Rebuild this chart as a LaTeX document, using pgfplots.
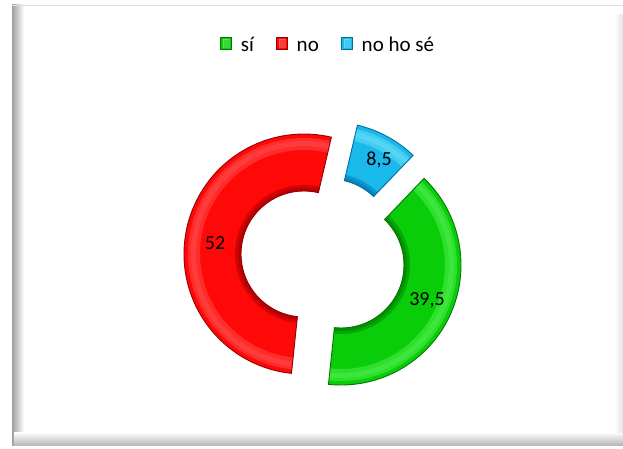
\documentclass[border=0pt]{standalone}
\usepackage{pgfplots}
\pgfplotsset{compat=1.18}
\usepackage{pgfplotstable}
\usepackage{fontspec}
\setmainfont{Carlito}
\usetikzlibrary{calc}

\definecolor{rM}{RGB}{255,8,8}
\definecolor{rD}{RGB}{150,0,0}
\definecolor{rL}{RGB}{255,90,90}
\definecolor{gM}{RGB}{10,205,10}
\definecolor{gD}{RGB}{0,120,0}
\definecolor{gL}{RGB}{90,245,90}
\definecolor{bM}{RGB}{25,185,235}
\definecolor{bD}{RGB}{0,110,165}
\definecolor{bL}{RGB}{120,230,252}

% value, centre of the (exploded) slice
\pgfplotstableread{
idx value cx cy
0 39.5 341 183
1 52.0 304 194
2 8.5 330 206
}\slices

% #1 cx, #2 cy, #3 start angle, #4 end angle, #5 inner r, #6 outer r, #7 options
\newcommand\ring[7]{%
  \path[#7]
   ($(axis cs:#1,#2)+(#3:#6pt)$) arc[start angle=#3,end angle=#4,radius=#6pt]
   -- ($(axis cs:#1,#2)+(#4:#5pt)$) arc[start angle=#4,end angle=#3,radius=#5pt] -- cycle;}
\newcommand\slice[7]{% cx cy a1 a2 main dark light
  \ring{#1}{#2}{#3}{#4}{63}{120}{fill=#5}%
  \ring{#1}{#2}{#3}{#4}{104}{116}{fill=#7, opacity=0.45}%
  \ring{#1}{#2}{#3}{#4}{108}{113}{fill=#7, opacity=0.35}%
  \ring{#1}{#2}{#3}{#4}{63}{69}{fill=#6, opacity=0.45}%
  \ring{#1}{#2}{#3}{#4}{63}{66}{fill=#6, opacity=0.45}%
  \ring{#1}{#2}{#3}{#4}{63}{120}{draw=#6, line width=0.9pt}}

\begin{document}
\begin{tikzpicture}
\pgfplotstablegetelem{0}{value}\of\slices\edef\vA{\pgfplotsretval}
\pgfplotstablegetelem{1}{value}\of\slices\edef\vB{\pgfplotsretval}
\pgfplotstablegetelem{2}{value}\of\slices\edef\vC{\pgfplotsretval}
\pgfplotstablegetelem{0}{cx}\of\slices\edef\xA{\pgfplotsretval}
\pgfplotstablegetelem{1}{cx}\of\slices\edef\xB{\pgfplotsretval}
\pgfplotstablegetelem{2}{cx}\of\slices\edef\xC{\pgfplotsretval}
\pgfplotstablegetelem{0}{cy}\of\slices\edef\yA{\pgfplotsretval}
\pgfplotstablegetelem{1}{cy}\of\slices\edef\yB{\pgfplotsretval}
\pgfplotstablegetelem{2}{cy}\of\slices\edef\yC{\pgfplotsretval}
\pgfmathsetmacro\aS{46.2}
\pgfmathsetmacro\aA{\aS-3.6*\vA}
\pgfmathsetmacro\aB{\aA-3.6*\vB}
\pgfmathsetmacro\aC{\aB-3.6*\vC}
\begin{axis}[
  width=623pt, height=448pt, scale only axis,
  xmin=0, xmax=623, ymin=0, ymax=448, enlargelimits=false,
  hide axis, ticks=none, clip=false,
  legend columns=-1,
  legend style={at={(axis cs:328,404.5)}, anchor=center, draw=none, fill=none,
    font=\fontsize{21}{24}\selectfont, inner sep=0pt,
    /tikz/every odd column/.append style={column sep=7pt},
    /tikz/every even column/.append style={column sep=20pt}},
  legend image code/.code={\filldraw[line width=0.9pt,#1] (0pt,-6pt) rectangle (11pt,6.5pt);
     \fill[white,opacity=0.2] (2.5pt,-3.5pt) rectangle (8.5pt,4pt);},
]
\addlegendimage{fill=gM, draw=gD}
\addlegendentry{\strut sí}
\addlegendimage{fill=rM, draw=rD}
\addlegendentry{\strut no}
\addlegendimage{fill=bM, draw=bD}
\addlegendentry{\strut no ho sé}

\coordinate (SW) at (axis cs:0,0);
\coordinate (NE) at (axis cs:623,448);

% frame
\fill[white] (axis cs:0,0) rectangle (axis cs:623,448);
\shade[left color=gray!75, right color=white] (axis cs:12,3) rectangle (axis cs:24,443);
\shade[bottom color=gray!55, top color=white] (axis cs:14,3) rectangle (axis cs:623,16);
\shade[left color=white, right color=gray!22] (axis cs:614,16) rectangle (axis cs:623,433);
\draw[gray!25] (axis cs:12,443) -- (axis cs:623,443);

% donut slices
\slice{\xA}{\yA}{\aS}{\aA}{gM}{gD}{gL}
\slice{\xB}{\yB}{\aA}{\aB}{rM}{rD}{rL}
\slice{\xC}{\yC}{\aB}{\aC}{bM}{bD}{bL}

% data labels
\node[font=\fontsize{20}{24}\selectfont] at (axis cs:215,205) {52};
\node[font=\fontsize{20}{24}\selectfont] at (axis cs:427,148) {39,5};
\node[font=\fontsize{20}{24}\selectfont] at (axis cs:379,288) {8,5};
\end{axis}
\pgfresetboundingbox
\useasboundingbox (SW) rectangle (NE);
\end{tikzpicture}
\end{document}
